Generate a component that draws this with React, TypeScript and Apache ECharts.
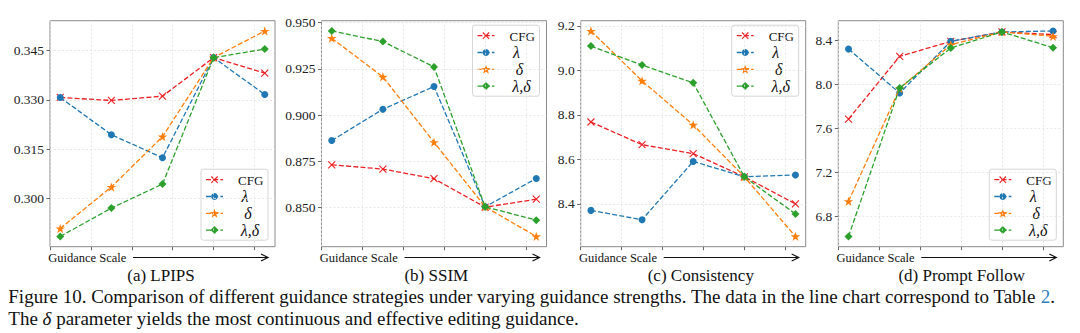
import React, { useEffect, useRef } from "react";
import * as echarts from "echarts";

// ---------------- data ----------------
const xPositions = [0.25, 1.5, 2.75, 4, 5.25];
const seriesNames = ["CFG", "λ", "δ", "λ,δ"];

const lpipsCFG = [0.3307, 0.3298, 0.3311, 0.3428, 0.3381];
const lpipsLambda = [0.3307, 0.3194, 0.3124, 0.3428, 0.3316];
const lpipsDelta = [0.2909, 0.3035, 0.3188, 0.3428, 0.3509];
const lpipsLambdaDelta = [0.2885, 0.2971, 0.3044, 0.3428, 0.3454];

const ssimCFG = [0.8732, 0.8709, 0.8657, 0.8503, 0.8546];
const ssimLambda = [0.8863, 0.9032, 0.9155, 0.8505, 0.8658];
const ssimDelta = [0.9416, 0.9207, 0.8854, 0.8505, 0.8345];
const ssimLambdaDelta = [0.9455, 0.9398, 0.9261, 0.8505, 0.8433];

const consCFG = [8.768, 8.666, 8.626, 8.522, 8.4];
const consLambda = [8.371, 8.329, 8.591, 8.522, 8.53];
const consDelta = [9.177, 8.953, 8.755, 8.522, 8.254];
const consLambdaDelta = [9.109, 9.024, 8.944, 8.522, 8.355];

const promptCFG = [7.686, 8.257, 8.393, 8.479, 8.455];
const promptLambda = [8.323, 7.923, 8.394, 8.479, 8.488];
const promptDelta = [6.937, 7.963, 8.363, 8.479, 8.44];
const promptLambdaDelta = [6.617, 7.969, 8.333, 8.479, 8.336];

const yTicksA = [0.3, 0.315, 0.33, 0.345];
const yTicksB = [0.85, 0.875, 0.9, 0.925, 0.95];
const yTicksC = [8.4, 8.6, 8.8, 9.0, 9.2];
const yTicksD = [6.8, 7.2, 7.6, 8.0, 8.4];
const xTicks = [0, 1, 2, 3, 4, 5];

const panelTitles = ["(a) LPIPS", "(b) SSIM", "(c) Consistency", "(d) Prompt Follow"];
const xAxisName = "Guidance Scale";
const captionLine1 =
  "Figure 10. Comparison of different guidance strategies under varying guidance strengths. The data in the line chart correspond to Table ";
const captionRef = "2";
const captionLine2a = "The ";
const captionLine2b = "δ";
const captionLine2c = " parameter yields the most continuous and effective editing guidance.";

// ---------------- layout / style ----------------
const panels = [
  { data: [lpipsCFG, lpipsLambda, lpipsDelta, lpipsLambdaDelta], ticks: yTicksA, dec: 3 },
  { data: [ssimCFG, ssimLambda, ssimDelta, ssimLambdaDelta], ticks: yTicksB, dec: 3 },
  { data: [consCFG, consLambda, consDelta, consLambdaDelta], ticks: yTicksC, dec: 1 },
  { data: [promptCFG, promptLambda, promptDelta, promptLambdaDelta], ticks: yTicksD, dec: 1 },
];
const PANEL_LEFT = [50, 321.5, 580.7, 838.3];
const PANEL_W = 225;
const PANEL_TOP = 20.7;
const PANEL_H = 226;
const LEGEND_POS = ["lower", "upper", "upper", "lower"];
const TITLE_CX = [161, 436.3, 700.8, 961.7];

const COLORS = ["#ec2024", "#1f77b4", "#ff7f0e", "#2ca02c"];
const SERIF = "Liberation Serif";
const DASH = [5, 2.2];

const STAR_PATH =
  "path://M0,-1L0.2245,-0.309L0.951,-0.309L0.363,0.118L0.588,0.809L0,0.382L-0.588,0.809L-0.363,0.118L-0.951,-0.309L-0.2245,-0.309Z";
const X_PATH = "path://M0,0L10,10M10,0L0,10";
const SYMBOLS: any[] = [X_PATH, "circle", STAR_PATH, "diamond"];
const SYMBOL_SIZES: any[] = [7, 7, [9.6, 9.2], 8];

function starPoints(cx: number, cy: number, R: number, r: number) {
  const pts: number[][] = [];
  for (let k = 0; k < 10; k++) {
    const a = (-90 + k * 36) * (Math.PI / 180);
    const rad = k % 2 === 0 ? R : r;
    pts.push([cx + rad * Math.cos(a), cy + rad * Math.sin(a)]);
  }
  return pts;
}

function textEl(text: string, x: number, y: number, size: number, align: string, extra: any = {}) {
  return {
    type: "text",
    silent: true,
    style: {
      text,
      x,
      y,
      fontFamily: SERIF,
      fontSize: size,
      fill: "#111",
      align,
      verticalAlign: "middle",
      textAlign: align,
      textVerticalAlign: "middle",
      ...extra,
    },
  };
}

function legendMarker(i: number, cx: number, cy: number) {
  const c = COLORS[i];
  if (i === 0) {
    const s = 3.2;
    return [
      { type: "line", silent: true, shape: { x1: cx - s, y1: cy - s, x2: cx + s, y2: cy + s }, style: { stroke: c, lineWidth: 1.1 } },
      { type: "line", silent: true, shape: { x1: cx - s, y1: cy + s, x2: cx + s, y2: cy - s }, style: { stroke: c, lineWidth: 1.1 } },
    ];
  }
  if (i === 1) return [{ type: "circle", silent: true, shape: { cx, cy, r: 3.4 }, style: { fill: c } }];
  if (i === 2) return [{ type: "polygon", silent: true, shape: { points: starPoints(cx, cy + 0.4, 4.9, 1.95) }, style: { fill: c } }];
  return [
    {
      type: "polygon",
      silent: true,
      shape: { points: [[cx, cy - 4], [cx + 4, cy], [cx, cy + 4], [cx - 4, cy]] },
      style: { fill: c },
    },
  ];
}

function buildLegend(p: number) {
  const w = 67;
  const h = 71;
  const right = PANEL_LEFT[p] + PANEL_W - 7;
  const x0 = right - w;
  const y0 = LEGEND_POS[p] === "upper" ? PANEL_TOP + 4.5 : PANEL_TOP + PANEL_H - 6.5 - h;
  const els: any[] = [
    {
      type: "rect",
      silent: true,
      shape: { x: x0, y: y0, width: w, height: h, r: 2.5 },
      style: { fill: "rgba(255,255,255,0.85)", stroke: "#d6d6d6", lineWidth: 1 },
    },
  ];
  seriesNames.forEach((name, i) => {
    const cy = y0 + 10.5 + i * 16.8;
    els.push({
      type: "line",
      silent: true,
      shape: { x1: x0 + 5, y1: cy, x2: x0 + 22, y2: cy },
      style: { stroke: COLORS[i], lineWidth: 1.3, lineDash: DASH },
    });
    els.push(...legendMarker(i, x0 + 13.5, cy));
    if (i === 0) {
      els.push(textEl(name, x0 + 37, cy + 0.5, 13, "left"));
    } else {
      const cx = i === 1 ? x0 + 44 : i === 2 ? x0 + 47 : x0 + 49;
      els.push(textEl(name, cx, cy, 16, "center", { fontStyle: "italic" }));
    }
  });
  return els;
}

function buildAxisDecor(p: number) {
  const left = PANEL_LEFT[p];
  const right = left + PANEL_W;
  const y = 257.5;
  const tx = left - 1.8;
  const aStart = left + 83;
  const aEnd = right - 7;
  return [
    textEl(xAxisName, tx, y, 12.5, "left"),
    { type: "line", silent: true, shape: { x1: aStart, y1: y, x2: aEnd, y2: y }, style: { stroke: "#111", lineWidth: 1.2 } },
    {
      type: "polyline",
      silent: true,
      shape: { points: [[aEnd - 7, y - 3.5], [aEnd, y], [aEnd - 7, y + 3.5]] },
      style: { stroke: "#111", fill: null, lineWidth: 1.2 },
    },
    textEl(panelTitles[p], TITLE_CX[p], 275.7, 17, "center"),
  ];
}

function buildOption() {
  const grids: any[] = [];
  const xAxes: any[] = [];
  const yAxes: any[] = [];
  const series: any[] = [];
  const graphic: any[] = [];

  panels.forEach((panel, p) => {
    const all = panel.data.flat();
    const lo = Math.min(...all);
    const hi = Math.max(...all);
    const m = (hi - lo) * 0.05;

    grids.push({
      left: PANEL_LEFT[p],
      top: PANEL_TOP,
      width: PANEL_W,
      height: PANEL_H,
      show: true,
      borderColor: "#8a8a8a",
      borderWidth: 1,
      backgroundColor: "transparent",
      containLabel: false,
    });
    xAxes.push({
      type: "value",
      gridIndex: p,
      min: 0,
      max: 5.5,
      axisLine: { show: false },
      axisLabel: { show: false, customValues: xTicks },
      axisTick: { show: true, length: 3.5, customValues: xTicks, lineStyle: { color: "#555", width: 0.9 } },
      splitLine: { show: true, lineStyle: { color: "#e2e2e2", width: 0.8, type: [2, 2] } },
    });
    yAxes.push({
      type: "value",
      gridIndex: p,
      min: lo - m,
      max: hi + m,
      axisLine: { show: false },
      axisLabel: {
        show: true,
        customValues: panel.ticks,
        formatter: (v: number) => v.toFixed(panel.dec),
        fontFamily: SERIF,
        fontSize: 13.5,
        color: "#222",
        margin: 6,
      },
      axisTick: { show: true, length: 3.5, customValues: panel.ticks, lineStyle: { color: "#555", width: 0.9 } },
      splitLine: { show: true, lineStyle: { color: "#e2e2e2", width: 0.8, type: [2, 2] } },
    });

    panel.data.forEach((vals, i) => {
      series.push({
        type: "line",
        name: seriesNames[i],
        xAxisIndex: p,
        yAxisIndex: p,
        data: xPositions.map((x, k) => [x, vals[k]]),
        symbol: SYMBOLS[i],
        symbolSize: SYMBOL_SIZES[i],
        showSymbol: true,
        lineStyle: { color: COLORS[i], width: 1.3, type: DASH },
        itemStyle: {
          color: COLORS[i],
          borderColor: COLORS[i],
          borderWidth: i === 0 ? 1.1 : 0,
          opacity: 1,
        },
        silent: true,
        z: 2 + i,
      });
    });

    graphic.push(...buildLegend(p));
    graphic.push(...buildAxisDecor(p));
  });

  // figure caption
  graphic.push({
    type: "text",
    silent: true,
    style: {
      text: captionLine1 + "{b|" + captionRef + "}.",
      x: 8.3,
      y: 296,
      fontFamily: SERIF,
      fontSize: 19,
      fill: "#111",
      align: "left",
      verticalAlign: "middle",
      textAlign: "left",
      textVerticalAlign: "middle",
      rich: {
        b: { fontFamily: SERIF, fontSize: 19, fill: "#2f7fc1", color: "#2f7fc1" },
      },
    },
  });
  graphic.push({
    type: "text",
    silent: true,
    style: {
      text: captionLine2a + "{i|" + captionLine2b + "}" + captionLine2c,
      x: 8.3,
      y: 318.5,
      fontFamily: SERIF,
      fontSize: 19,
      fill: "#111",
      align: "left",
      verticalAlign: "middle",
      textAlign: "left",
      textVerticalAlign: "middle",
      rich: {
        i: { fontFamily: SERIF, fontSize: 19, fontStyle: "italic", fill: "#111", color: "#111" },
      },
    },
  });

  return {
    animation: false,
    backgroundColor: "#ffffff",
    grid: grids,
    xAxis: xAxes,
    yAxis: yAxes,
    series,
    graphic: { elements: graphic },
  };
}

export default function App() {
  const ref = useRef<HTMLDivElement>(null);
  useEffect(() => {
    if (!ref.current) return;
    const chart = echarts.init(ref.current, undefined, { renderer: "svg", width: 1080, height: 333 });
    chart.setOption(buildOption() as any);
    return () => chart.dispose();
  }, []);
  return (
    <div
      ref={ref}
      style={{ position: "fixed", left: 0, top: 0, width: 1080, height: 333, background: "#fff" }}
    />
  );
}
